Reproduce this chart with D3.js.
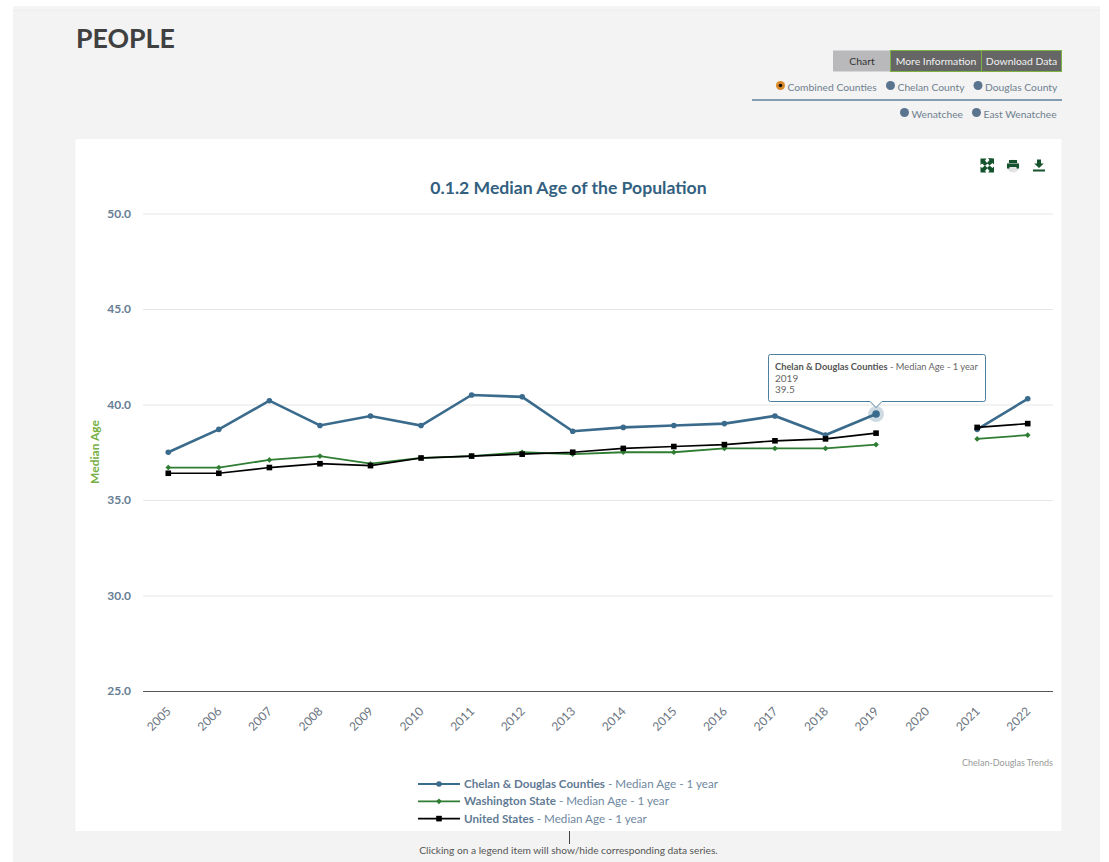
<!doctype html>
<html>
  <head>
    <meta charset="utf-8">
    <title>People</title>
    <script src="https://cdn.jsdelivr.net/npm/d3@7"></script>
    <style>
      html, body { margin: 0; padding: 0; background: #fff; overflow: hidden; }
      text { font-family: Lato, "Open Sans", sans-serif; }
    </style>
  </head>
  <body>
    <script>
      const years = ['2005','2006','2007','2008','2009','2010','2011','2012','2013','2014','2015','2016','2017','2018','2019','2020','2021','2022'];
      const chelanDouglas = [37.5,38.7,40.2,38.9,39.4,38.9,40.5,40.4,38.6,38.8,38.9,39.0,39.4,38.4,39.5,null,38.7,40.3];
      const washington = [36.7,36.7,37.1,37.3,36.9,37.2,37.3,37.5,37.4,37.5,37.5,37.7,37.7,37.7,37.9,null,38.2,38.4];
      const unitedStates = [36.4,36.4,36.7,36.9,36.8,37.2,37.3,37.4,37.5,37.7,37.8,37.9,38.1,38.2,38.5,null,38.8,39.0];
      const yTicks = [25, 30, 35, 40, 45, 50];
      const seriesNames = ['Chelan & Douglas Counties', 'Washington State', 'United States'];
      const topTabs = ['Chart', 'More Information', 'Download Data'];

      const width = 1109, height = 862;
      const blue = '#3a6b8c', green = '#2e7d32', black = '#000000';

      const svg = d3.select('body').append('svg')
          .attr('width', width)
          .attr('height', height)
          .style('display', 'block');

      // page panels
      svg.append('rect').attr('x', 13).attr('y', 6).attr('width', 1087).attr('height', 856).attr('fill', '#f5f5f5');
      svg.append('rect').attr('x', 13).attr('y', 10).attr('width', 1087).attr('height', 852).attr('fill', '#f3f3f3');
      svg.append('line').attr('x1', 13).attr('x2', 1100).attr('y1', 10).attr('y2', 10).attr('stroke', '#ececec');
      svg.append('rect').attr('x', 75.5).attr('y', 139).attr('width', 986).attr('height', 692).attr('fill', '#fff');

      svg.append('text').attr('x', 76).attr('y', 48)
          .attr('font-size', 26.7).attr('font-weight', 700).attr('fill', '#404040').text('PEOPLE');

      // tabs
      const tabX = [833, 890, 981, 1061];
      topTabs.forEach((t, i) => {
        svg.append('rect')
            .attr('x', tabX[i] + (i ? .5 : 0)).attr('y', 50.5)
            .attr('width', tabX[i + 1] - tabX[i]).attr('height', 21)
            .attr('fill', i ? '#666666' : '#b9b9bb')
            .attr('stroke', i ? '#7cb342' : 'none').attr('stroke-width', 1);
        svg.append('text').attr('x', (tabX[i] + tabX[i + 1]) / 2 + .5).attr('y', 65)
            .attr('text-anchor', 'middle').attr('font-size', 10.4)
            .attr('fill', i ? '#f2f2f2' : '#333').text(t);
      });

      // region radios
      const radios = [
        {label: 'Combined Counties', cx: 780.5, y: 87, on: true},
        {label: 'Chelan County', cx: 890.5, y: 87},
        {label: 'Douglas County', cx: 978, y: 87},
        {label: 'Wenatchee', cx: 904.5, y: 114},
        {label: 'East Wenatchee', cx: 976.5, y: 114}
      ];
      radios.forEach(r => {
        svg.append('circle').attr('cx', r.cx).attr('cy', r.y - 1.5).attr('r', 4.5)
            .attr('fill', r.on ? '#d98b2b' : '#5a7490');
        if (r.on) svg.append('circle').attr('cx', r.cx).attr('cy', r.y - 1.5).attr('r', 1.8).attr('fill', '#111');
        svg.append('text').attr('x', r.cx + 7).attr('y', r.y + 3.5)
            .attr('font-size', 10.3).attr('fill', '#6f7f8f').text(r.label);
      });
      svg.append('line').attr('x1', 752).attr('x2', 1062).attr('y1', 100).attr('y2', 100)
          .attr('stroke', '#5f7f9c').attr('stroke-width', 1.5);

      // toolbar icons
      const icons = svg.append('g').attr('fill', '#14532d');
      icons.append('path').attr('d', 'M980.5 158.500h6l-1.500 2 2.500 3-2.500 2.500-3-2.500-1.500 1.500zM994 158.500v6l-1.500-1.500-3 2.500-2.500-2.500 2.500-3-1.500-2zM980.500 172.500v-6l1.500 1.500 3-2.500 2.500 2.500-2.500 3 1.500 1.500zM994 172.500h-6l1.500-1.500-2.500-3 2.500-2.500 3 2.500 1.500-1.500z');
      icons.append('circle').attr('cx', 1013).attr('cy', 166).attr('r', 6.5).attr('fill', '#e3e3e3');
      icons.append('path').attr('d', 'M1009 160h8v3h-8zM1007 163.500h12v5h-2.500v-1.500h-7v1.500h-2.500z');
      icons.append('path').attr('d', 'M1037 159.500h4v4h2.800l-4.800 4.500-4.800-4.500h2.800zM1033 169.500h12v2h-12z');

      // title
      svg.append('text').attr('x', 568.5).attr('y', 193.5)
          .attr('text-anchor', 'middle').attr('font-size', 17.6).attr('font-weight', 700)
          .attr('fill', '#335f80').text('0.1.2 Median Age of the Population');

      // scales
      const x = d3.scalePoint().domain(years).range([143, 1053]).padding(0.5);
      const y = d3.scaleLinear().domain([25, 50]).range([691, 213.5]);

      // y axis + gridlines
      const yAxis = svg.append('g').attr('transform', 'translate(143,0)')
          .call(d3.axisLeft(y).tickValues(yTicks).tickFormat(d3.format('.1f')).tickSize(-910).tickPadding(12));
      yAxis.select('.domain').remove();
      yAxis.selectAll('.tick line').attr('stroke', d => d === 25 ? '#555' : '#e6e6e6');
      yAxis.selectAll('.tick text')
          .attr('font-family', 'Lato').attr('font-size', 12).attr('font-weight', 700).attr('fill', '#667d94');

      svg.append('text').attr('transform', 'translate(99,452) rotate(-90)')
          .attr('text-anchor', 'middle').attr('font-size', 12).attr('font-weight', 700)
          .attr('fill', '#76b043').text('Median Age');

      // x axis
      const xAxis = svg.append('g').attr('transform', 'translate(0,691)')
          .call(d3.axisBottom(x).tickSize(0).tickPadding(0));
      xAxis.select('.domain').remove();
      xAxis.selectAll('.tick text')
          .attr('font-family', 'Lato').attr('font-size', 12).attr('fill', '#6b7480')
          .attr('text-anchor', 'end')
          .attr('transform', 'translate(0,18) rotate(-45)')
          .attr('dy', '.35em');

      // series
      const line = d3.line().defined(d => d != null).x((d, i) => x(years[i])).y(d => y(d));
      const seriesList = [
        {values: chelanDouglas, color: blue, w: 2.6, legendW: 1.8, marker: 'circle', size: 2.8},
        {values: washington, color: green, w: 1.8, legendW: 1.8, marker: 'diamond', size: 2},
        {values: unitedStates, color: black, w: 1.7, legendW: 1.7, marker: 'square', size: 2.8}
      ];
      seriesList.forEach(s => {
        const g = svg.append('g');
        g.append('path').attr('d', line(s.values)).attr('fill', 'none')
            .attr('stroke', s.color).attr('stroke-width', s.w);
        s.values.forEach((v, i) => {
          if (v == null) return;
          addMarker(g, s, x(years[i]), y(v));
        });
      });

      function addMarker(g, s, cx, cy) {
        if (s.marker === 'circle') {
          g.append('circle').attr('cx', cx).attr('cy', cy).attr('r', s.size).attr('fill', s.color);
        } else if (s.marker === 'square') {
          g.append('rect').attr('x', cx - s.size).attr('y', cy - s.size)
              .attr('width', s.size * 2).attr('height', s.size * 2).attr('fill', s.color);
        } else {
          g.append('path').attr('transform', `translate(${cx},${cy}) rotate(45)`)
              .attr('d', `M${-s.size} ${-s.size}h${s.size * 2}v${s.size * 2}h${-s.size * 2}z`)
              .attr('fill', s.color);
        }
      }

      // hovered point + tooltip (2019)
      const hoverIdx = years.indexOf('2019');
      const hx = x(years[hoverIdx]), hy = y(chelanDouglas[hoverIdx]);
      svg.append('circle').attr('cx', hx).attr('cy', hy).attr('r', 8).attr('fill', blue).attr('opacity', .25);
      svg.append('circle').attr('cx', hx).attr('cy', hy).attr('r', 3.8).attr('fill', blue);

      const tipL = 768.5, tipR = 985.5, tipT = 354.5, tipB = 401.5;
      svg.append('path')
          .attr('d', `M${tipL + 2} ${tipT}H${tipR - 2}Q${tipR} ${tipT} ${tipR} ${tipT + 2}V${tipB - 2}Q${tipR} ${tipB} ${tipR - 2} ${tipB}H${hx + 6}L${hx} ${tipB + 6}L${hx - 6} ${tipB}H${tipL + 2}Q${tipL} ${tipB} ${tipL} ${tipB - 2}V${tipT + 2}Q${tipL} ${tipT} ${tipL + 2} ${tipT}Z`)
          .attr('fill', '#fff').attr('stroke', '#4f7f9f').attr('stroke-width', 1);
      const tip1 = svg.append('text').attr('x', 775).attr('y', 370).attr('font-size', 9.3).attr('fill', '#666');
      tip1.append('tspan').attr('font-weight', 700).attr('fill', '#555').text(seriesNames[0]);
      tip1.append('tspan').text(' - Median Age - 1 year');
      svg.append('text').attr('x', 775).attr('y', 382).attr('font-size', 10).attr('fill', '#666').text(years[hoverIdx]);
      svg.append('text').attr('x', 775).attr('y', 393).attr('font-size', 10).attr('fill', '#666').text(chelanDouglas[hoverIdx].toFixed(1));

      // credit
      svg.append('text').attr('x', 1053).attr('y', 766).attr('text-anchor', 'end')
          .attr('font-size', 9).attr('fill', '#9a9a9a').text('Chelan-Douglas Trends');

      // legend
      seriesList.forEach((s, i) => {
        const ly = 784 + i * 17.3;
        const g = svg.append('g');
        g.append('line').attr('x1', 418).attr('x2', 460).attr('y1', ly).attr('y2', ly)
            .attr('stroke', s.color).attr('stroke-width', s.legendW);
        addMarker(g, s, 439, ly);
        const t = svg.append('text').attr('x', 464).attr('y', ly + 4).attr('font-size', 11.65).attr('fill', '#6f88a0');
        t.append('tspan').attr('font-weight', 700).attr('fill', '#5f7a94').text(seriesNames[i]);
        t.append('tspan').text(' - Median Age - 1 year');
      });

      svg.append('line').attr('x1', 569.5).attr('x2', 569.5).attr('y1', 831).attr('y2', 844)
          .attr('stroke', '#444').attr('stroke-width', 1);
      svg.append('text').attr('x', 568.5).attr('y', 854).attr('text-anchor', 'middle')
          .attr('font-size', 10.2).attr('fill', '#555')
          .text('Clicking on a legend item will show/hide corresponding data series.');
    </script>
  </body>
</html>
